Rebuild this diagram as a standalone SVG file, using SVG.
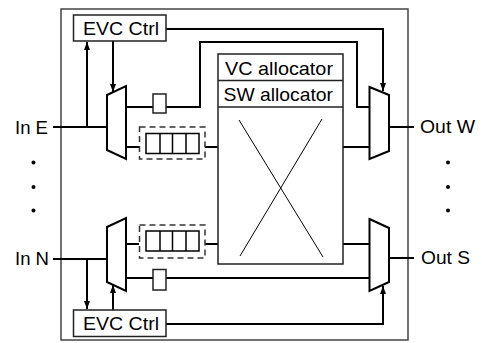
<svg xmlns="http://www.w3.org/2000/svg" width="482" height="343" viewBox="0 0 482 343">
<defs>
<marker id="ah" markerUnits="userSpaceOnUse" markerWidth="9" markerHeight="7" refX="8" refY="3" orient="auto">
<path d="M0,0 L8,3 L0,6 z" fill="#000"/>
</marker>
<style>
.t{font-family:"Liberation Sans",Arial,sans-serif;font-size:18.5px;fill:#000}
.box{fill:#fff;stroke:#222;stroke-width:1.5}
.mux{fill:#fff;stroke:#000;stroke-width:2}
.c{fill:none;stroke:#000;stroke-width:2}
.dash{fill:none;stroke:#333;stroke-width:1.5;stroke-dasharray:6 4}
.thin{fill:none;stroke:#000;stroke-width:1}
.cell{fill:#fff;stroke:#000;stroke-width:1.5}
</style>
</defs>
<rect id="frame" x="61" y="9" width="347" height="331" fill="#fff" stroke="#444" stroke-width="1.5"/>
<g id="connectors">
<path class="c" d="M53,127 H107"/>
<path class="c" d="M87,127 V42" marker-end="url(#ah)"/>
<path class="c" d="M113,41 V92" marker-end="url(#ah)"/>
<path class="c" d="M166,29 H383 V91" marker-end="url(#ah)"/>
<path class="c" d="M126,107 H153"/>
<path class="c" d="M166,107 H200 V42 H357 V107 H370"/>
<path class="c" d="M126,147 H139"/>
<path class="c" d="M205,147 H218"/>
<path class="c" d="M343,147 H370"/>
<path class="c" d="M389,127 H414"/>
<path class="c" d="M53,259 H107"/>
<path class="c" d="M87,259 V309" marker-end="url(#ah)"/>
<path class="c" d="M113,310 V285" marker-end="url(#ah)"/>
<path class="c" d="M166,324 H383 V286" marker-end="url(#ah)"/>
<path class="c" d="M126,278 H153"/>
<path class="c" d="M166,278 H370"/>
<path class="c" d="M126,244 H139"/>
<path class="c" d="M205,244 H218"/>
<path class="c" d="M343,244 H370"/>
<path class="c" d="M389,258 H414"/>
</g>
<g id="evc-top">
<rect class="box" x="73.5" y="15" width="92.5" height="26"/>
<text class="t" x="83" y="34.5" textLength="76" lengthAdjust="spacingAndGlyphs">EVC Ctrl</text>
</g>
<g id="evc-bottom">
<rect class="box" x="73.5" y="310" width="92.5" height="26.5"/>
<text class="t" x="83" y="329.5" textLength="76" lengthAdjust="spacingAndGlyphs">EVC Ctrl</text>
</g>
<g id="demux-e">
<path class="mux" d="M107,95 L126,86 L126,159 L107,150 Z"/>
</g>
<g id="demux-n">
<path class="mux" d="M107,227 L126,218 L126,291 L107,282 Z"/>
</g>
<g id="mux-w">
<path class="mux" d="M369.5,87 L389,95 L389,151 L369.5,159 Z"/>
</g>
<g id="mux-s">
<path class="mux" d="M369.5,219 L389,228 L389,282 L369.5,291 Z"/>
</g>
<g id="reg-e">
<rect class="box" x="153" y="94" width="13" height="19"/>
</g>
<g id="reg-n">
<rect class="box" x="153" y="269.5" width="13" height="20.5"/>
</g>
<g id="buf-e">
<rect class="dash" x="139.5" y="127" width="65.5" height="32"/>
<rect class="cell" x="146" y="133.5" width="53" height="20"/>
<path class="cell" d="M160,133.5 V153.5 M172.5,133.5 V153.5 M186,133.5 V153.5"/>
</g>
<g id="buf-n">
<rect class="dash" x="139.5" y="225" width="65.5" height="33"/>
<rect class="cell" x="146" y="231" width="53" height="20"/>
<path class="cell" d="M160,231 V251 M172.5,231 V251 M186,231 V251"/>
</g>
<g id="allocator">
<rect class="box" x="218" y="54" width="125" height="210"/>
<path class="box" d="M218,80.5 H343 M218,107 H343"/>
<text class="t" x="225" y="74.5" textLength="108" lengthAdjust="spacingAndGlyphs">VC allocator</text>
<text class="t" x="223.5" y="101" textLength="109.5" lengthAdjust="spacingAndGlyphs">SW allocator</text>
<path class="thin" d="M239,120 L323,257 M322,119 L240,256"/>
</g>
<g id="labels">
<text class="t" x="15" y="133.5" textLength="33" lengthAdjust="spacingAndGlyphs">In E</text>
<text class="t" x="15" y="265" textLength="34" lengthAdjust="spacingAndGlyphs">In N</text>
<text class="t" x="420" y="133" textLength="55" lengthAdjust="spacingAndGlyphs">Out W</text>
<text class="t" x="421" y="264" textLength="49" lengthAdjust="spacingAndGlyphs">Out S</text>
</g>
<g id="dots" fill="#000">
<circle cx="33.5" cy="162.5" r="2"/>
<circle cx="33.5" cy="187" r="2"/>
<circle cx="33.5" cy="210.5" r="2"/>
<circle cx="448" cy="162.5" r="2"/>
<circle cx="448" cy="187" r="2"/>
<circle cx="448" cy="210.5" r="2"/>
</g>
</svg>
